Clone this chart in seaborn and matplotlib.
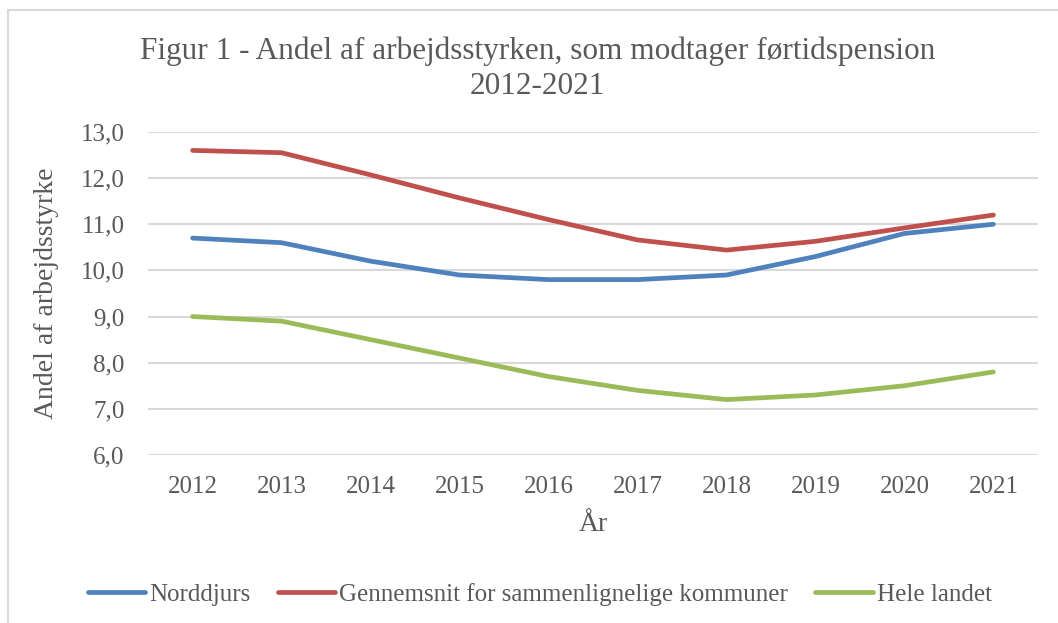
import pandas as pd
import seaborn as sns
import matplotlib.pyplot as plt
from matplotlib.patches import Rectangle
from matplotlib.ticker import FuncFormatter

# data
years = ['2012', '2013', '2014', '2015', '2016', '2017', '2018', '2019', '2020', '2021']
norddjurs = [10.7, 10.6, 10.2, 9.9, 9.8, 9.8, 9.9, 10.3, 10.8, 11.0]
gennemsnit = [12.6, 12.55, 12.07, 11.57, 11.1, 10.66, 10.44, 10.63, 10.92, 11.2]
hele_landet = [9.0, 8.9, 8.5, 8.1, 7.7, 7.4, 7.2, 7.3, 7.5, 7.8]
serier = ['Norddjurs', 'Gennemsnit for sammenlignelige kommuner', 'Hele landet']
farver = ['#4f81bd', '#c0504d', '#9bbb59']

df = pd.DataFrame({'År': years * 3,
                   'Værdi': norddjurs + gennemsnit + hele_landet,
                   'Serie': [s for s in serier for _ in years]})

sns.set_theme(style='white')
plt.rcParams['font.family'] = ['Liberation Serif', 'DejaVu Serif']
grå = '#595959'

fig = plt.figure(figsize=(10.58, 6.23), dpi=100)
ax = fig.add_axes([0.140, 0.2697, 0.841, 0.5185])

sns.lineplot(data=df, x='År', y='Værdi', hue='Serie', palette=farver,
             linewidth=3.4, sort=False, ax=ax, legend=True,
             solid_capstyle='round')

ax.set_ylim(6, 13)
ax.set_yticks(range(6, 14))
ax.yaxis.set_major_formatter(FuncFormatter(lambda v, p: f'{v:.1f}'.replace('.', ',')))
ax.set_xlim(-0.5, 9.5)
ax.grid(axis='y', color='#d9d9d9', linewidth=1.5)
ax.set_axisbelow(True)
for s in ax.spines.values():
    s.set_visible(False)
ax.tick_params(axis='both', colors=grå, labelsize=18, length=0)
ax.tick_params(axis='x', pad=15)
ax.tick_params(axis='y', pad=17)

ax.set_xlabel('År', fontsize=20, color=grå)
ax.set_ylabel('Andel af arbejdsstyrke', fontsize=20, color=grå)
ax.xaxis.set_label_coords(0.5, -0.177)
ax.yaxis.set_label_coords(-0.100, 0.5)

fig.text(0.508, 0.890, 'Figur 1 - Andel af arbejdsstyrken, som modtager førtidspension\n2012-2021',
         ha='center', va='center', fontsize=22.5, color=grå, linespacing=1.26)

h, l = ax.get_legend_handles_labels()
ax.legend(h, l, loc='center', bbox_to_anchor=(0.51, 0.046), bbox_transform=fig.transFigure,
          ncol=3, frameon=False, fontsize=18, labelcolor=grå, handlelength=2.3,
          handletextpad=0.15, columnspacing=1.1)

fig.patches.append(Rectangle((8 / 1058, -0.01), 1.1, 1 - 10 / 623 + 0.01, transform=fig.transFigure,
                             fill=False, edgecolor='#d9d9d9', linewidth=1.5))

fig.savefig('out.png', dpi=100)
